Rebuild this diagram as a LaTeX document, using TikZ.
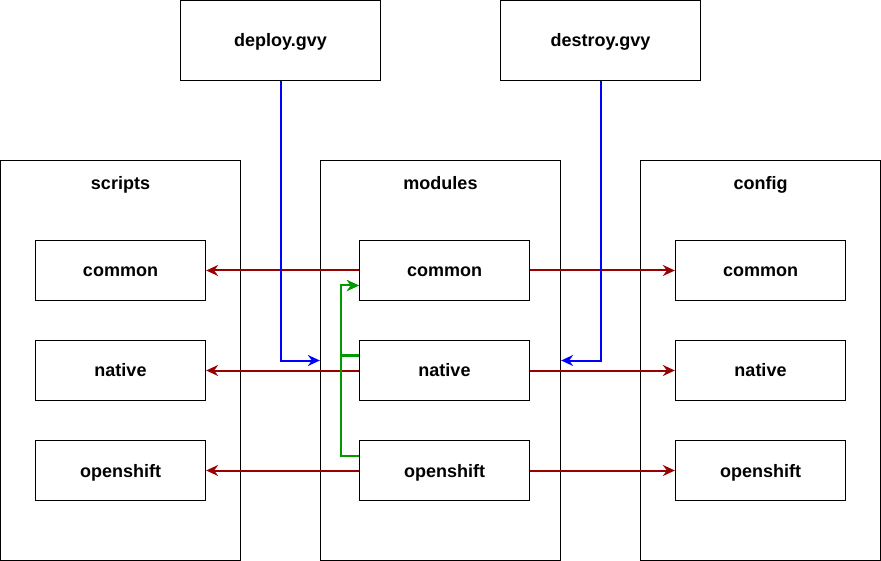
\documentclass[tikz,border=0pt]{standalone}
\usepackage{fontspec}
\setmainfont{Liberation Sans}
\usetikzlibrary{arrows.meta}
\definecolor{dred}{HTML}{990000}
\definecolor{dblue}{HTML}{0000FF}
\definecolor{dgreen}{HTML}{009900}
\tikzset{
  box/.style={draw=black, line width=1.3pt, fill=white, minimum width=#1, inner sep=0pt, font=\bfseries\fontsize{18}{20}\selectfont, text depth=0pt, text height=9pt},
  filebox/.style={box=200pt, minimum height=80pt},
  inner/.style={box=170pt, minimum height=60pt},
  cont/.style={draw=black, line width=1.3pt, fill=white, minimum width=240pt, minimum height=400pt, inner sep=0pt},
  ctitle/.style={font=\bfseries\fontsize{18}{20}\selectfont, inner sep=0pt, text depth=0pt, text height=9pt},
  lbl/.style={font=\bfseries\fontsize{18}{20}\selectfont, inner sep=0pt, text depth=0pt, text height=9pt},
  arr/.style={line width=2pt, -{Stealth[length=12pt,width=11pt,inset=4pt]}},
  redarr/.style={arr, draw=dred},
  bluearr/.style={arr, draw=dblue},
  greenarr/.style={arr, draw=dgreen}
}
\begin{document}
\begin{tikzpicture}[x=1pt,y=-1pt]
\useasboundingbox (0,0) rectangle (881,561);
% containers
\node[cont] (scripts) at (120.5,360.5) {};
\node[cont] (modules) at (440.5,360.5) {};
\node[cont] (config) at (760.5,360.5) {};
\node[ctitle] (tscripts) at (120.5,185.5) {scripts};
\node[ctitle] (tmodules) at (440.5,185.5) {modules};
\node[ctitle] (tconfig) at (760.5,185.5) {config};
% file boxes
\node[filebox] (deploy) at (280.5,40.5) {};
\node[filebox] (destroy) at (600.5,40.5) {};
% inner boxes
\node[inner] (sc) at (120.5,270.5) {};
\node[inner] (sn) at (120.5,370.5) {};
\node[inner] (so) at (120.5,470.5) {};
\node[inner] (mc) at (444.5,270.5) {};
\node[inner] (mn) at (444.5,370.5) {};
\node[inner] (mo) at (444.5,470.5) {};
\node[inner] (cc) at (760.5,270.5) {};
\node[inner] (cn) at (760.5,370.5) {};
\node[inner] (co) at (760.5,470.5) {};
% labels
\foreach \n/\t in {deploy/deploy.gvy, destroy/destroy.gvy, sc/common, sn/native, so/openshift, mc/common, mn/native, mo/openshift, cc/common, cn/native, co/openshift}
  \node[lbl] (l\n) at ([yshift=-2pt]\n.center) {\t};
% red arrows
\draw[redarr] (mc.west) -- (sc.east);
\draw[redarr] (mn.west) -- (sn.east);
\draw[redarr] (mo.west) -- (so.east);
\draw[redarr] (mc.east) -- (cc.west);
\draw[redarr] (mn.east) -- (cn.west);
\draw[redarr] (mo.east) -- (co.west);
% blue arrows
\coordinate (bl) at (modules.west |- 0,360.5);
\coordinate (br) at (modules.east |- 0,360.5);
\draw[bluearr] (deploy.south) |- (bl);
\draw[bluearr] (destroy.south) |- (br);
% green arrows
\coordinate (gtop) at (mc.west |- 0,285.5);
\draw[greenarr] (mn.west |- 0,355.5) -- (340.5,355.5) |- (gtop);
\draw[greenarr] (mo.west |- 0,455.5) -- (340.5,455.5) |- (gtop);
\end{tikzpicture}
\end{document}
